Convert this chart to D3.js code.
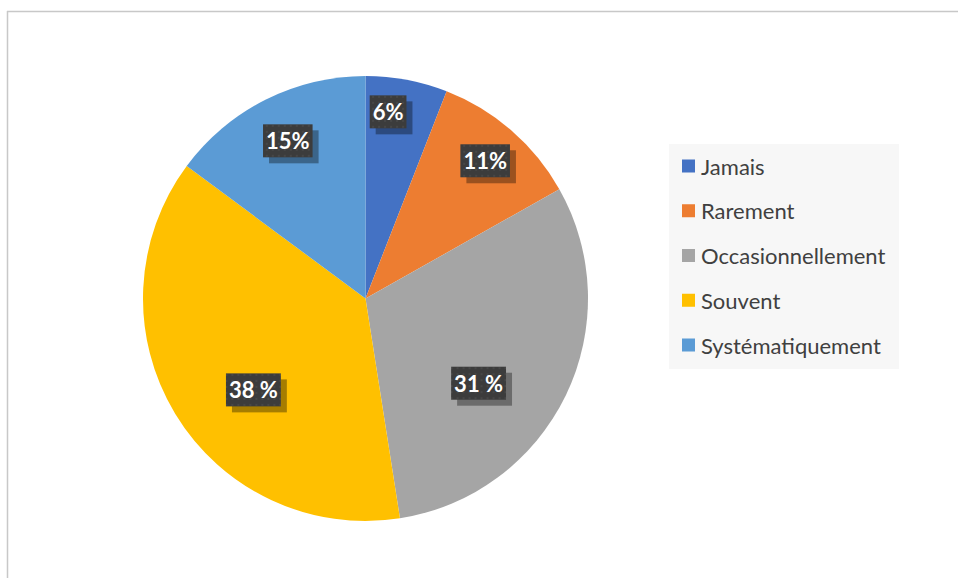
<!DOCTYPE html>
<html>
<head>
<meta charset="utf-8">
<script src="https://cdn.jsdelivr.net/npm/d3@7/dist/d3.min.js"></script>
<style>
  html, body { margin: 0; padding: 0; background: #ffffff; }
  svg { display: block; }
</style>
</head>
<body>
<svg id="chart" width="958" height="578"></svg>
<script>
// Répartition des réponses
const categories = ["Jamais", "Rarement", "Occasionnellement", "Souvent", "Systématiquement"];
const values = [6, 11, 31, 38, 15];
const valueLabels = ["6%", "11%", "31 %", "38 %", "15%"];
const colors = ["#4472C4", "#ED7D31", "#A5A5A5", "#FFC000", "#5B9BD5"];

// Label placement inside each slice: fraction of radius and angular nudge (degrees)
const labelRadius = [0.845, 0.82, 0.635, 0.65, 0.79];
const labelNudge = [-3.8, 0, 11, -8, 0.5];

const W = 958, H = 578;
const cx = 365.5, cy = 298.5, R = 222.5;
const fontFamily = "Lato, 'Open Sans', 'Liberation Sans', sans-serif";

const svg = d3.select("#chart");

// Pattern used for the data label boxes
const defs = svg.append("defs");
const pat = defs.append("pattern")
  .attr("id", "dots").attr("patternUnits", "userSpaceOnUse")
  .attr("width", 6).attr("height", 6);
pat.append("rect").attr("width", 6).attr("height", 6).attr("fill", "#3c3c3c");
pat.append("circle").attr("cx", 3).attr("cy", 3).attr("r", 1).attr("fill", "#4b4b4b");

// Chart frame (top and left edges)
svg.append("line").attr("x1", 7).attr("y1", 11.5).attr("x2", W).attr("y2", 11.5)
  .attr("stroke", "#c8c8c8").attr("stroke-width", 1.5);
svg.append("line").attr("x1", 7.5).attr("y1", 11).attr("x2", 7.5).attr("y2", H)
  .attr("stroke", "#c8c8c8").attr("stroke-width", 1.5);

const pie = d3.pie().sort(null).value(d => d);
const arcs = pie(values);
const arc = d3.arc().innerRadius(0).outerRadius(R);

const g = svg.append("g").attr("transform", `translate(${cx},${cy})`);

g.selectAll("path.slice")
  .data(arcs)
  .join("path")
  .attr("class", "slice")
  .attr("d", arc)
  .attr("fill", (d, i) => colors[i]);

// Data labels
const labels = g.selectAll("g.lbl")
  .data(arcs)
  .join("g")
  .attr("class", "lbl")
  .attr("transform", (d, i) => {
    const a = (d.startAngle + d.endAngle) / 2 + labelNudge[i] * Math.PI / 180;
    const r = R * labelRadius[i];
    return `translate(${r * Math.sin(a)},${-r * Math.cos(a)})`;
  });

labels.each(function(d, i) {
  const sel = d3.select(this);
  const shadow = sel.append("rect");
  const box = sel.append("rect");
  const t = sel.append("text")
    .attr("text-anchor", "middle")
    .attr("dominant-baseline", "central")
    .attr("font-family", fontFamily)
    .attr("font-weight", "bold")
    .attr("font-size", 22)
    .attr("fill", "#ffffff")
    .text(valueLabels[i]);
  const bb = t.node().getBBox();
  const padX = 3, h = 33;
  const w = bb.width + padX * 2;
  shadow.attr("x", -w / 2 + 6).attr("y", -h / 2 + 6).attr("width", w).attr("height", h)
    .attr("fill", "#000").attr("fill-opacity", 0.35);
  box.attr("x", -w / 2).attr("y", -h / 2).attr("width", w).attr("height", h)
    .attr("fill", "url(#dots)");
});

// Legend
const legend = svg.append("g");
legend.append("rect").attr("x", 669).attr("y", 144).attr("width", 230).attr("height", 225)
  .attr("fill", "#f7f7f7");

const rowY = d3.scalePoint().domain(categories).range([166, 345]);
const items = legend.selectAll("g.item")
  .data(categories)
  .join("g")
  .attr("class", "item")
  .attr("transform", d => `translate(682,${rowY(d)})`);
items.append("rect").attr("x", 0).attr("y", -6.5).attr("width", 13).attr("height", 13)
  .attr("fill", (d, i) => colors[i]);
items.append("text").attr("x", 19).attr("y", 0)
  .attr("dominant-baseline", "central")
  .attr("font-family", fontFamily)
  .attr("font-size", 22)
  .attr("fill", "#404040")
  .text(d => d);
</script>
</body>
</html>
